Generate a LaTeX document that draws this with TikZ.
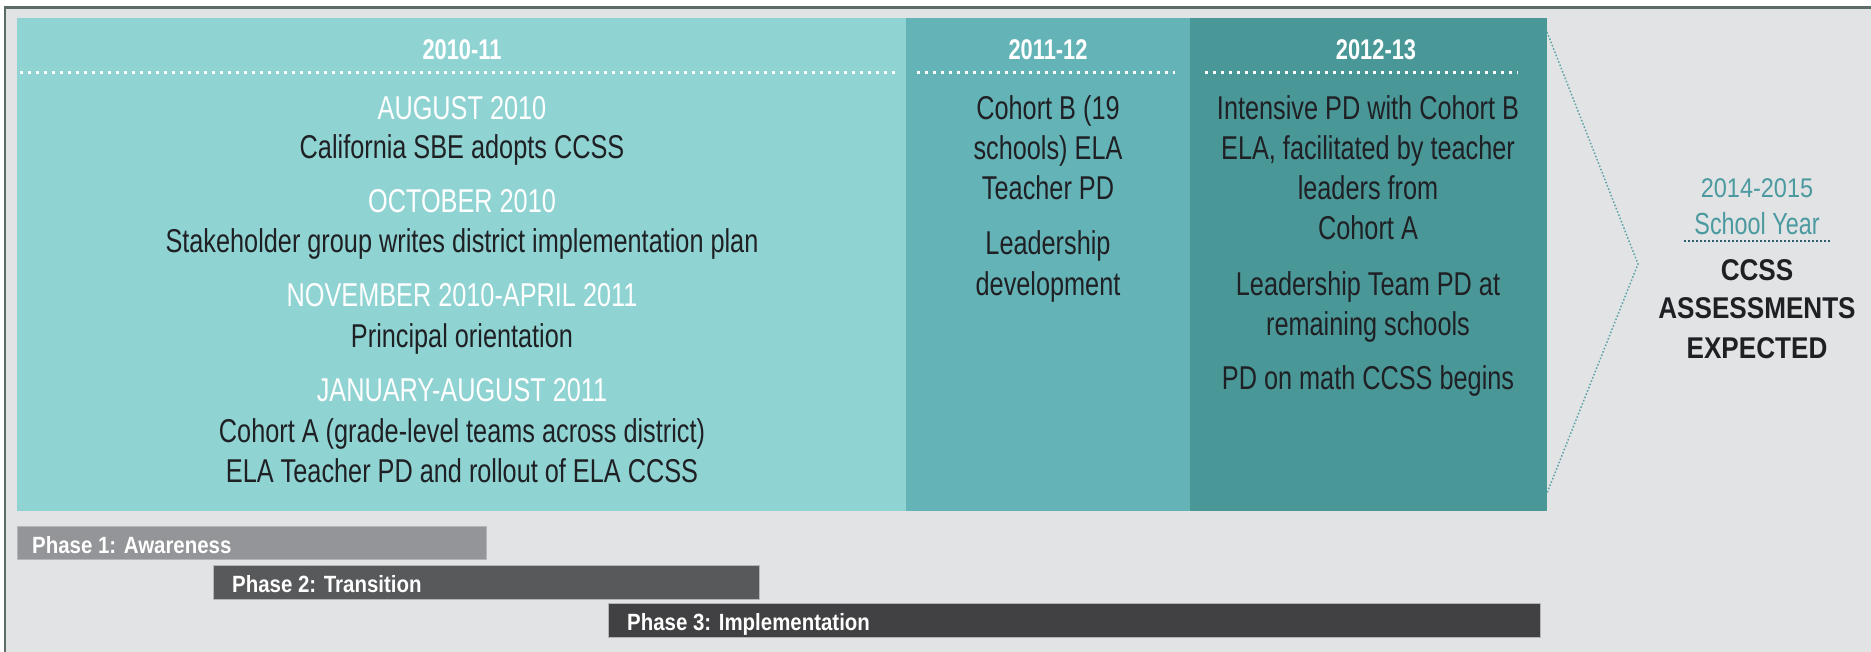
\documentclass[tikz,border=0pt]{standalone}
\usepackage{fontspec}
\setmainfont{Liberation Sans}
% condensed grotesque faces for the timeline texts
\newfontfamily\condfont[FakeStretch=0.766]{Liberation Sans}
\newfontfamily\widecondfont[FakeStretch=0.87]{Liberation Sans}

\definecolor{pagegray}{HTML}{E2E3E5}
\definecolor{framegray}{HTML}{5D6B68}
\definecolor{tealA}{HTML}{8FD3D2}
\definecolor{tealB}{HTML}{64B3B7}
\definecolor{tealC}{HTML}{4A9798}
\definecolor{tealtext}{HTML}{4A9AA0}
\definecolor{chevteal}{HTML}{5AA3A6}
\definecolor{underteal}{HTML}{2F5F6E}
\definecolor{inkdark}{HTML}{1F2024}
\definecolor{phaseA}{HTML}{949598}
\definecolor{phaseB}{HTML}{58595B}
\definecolor{phaseC}{HTML}{414143}
\definecolor{barrim}{HTML}{B4B5B8}

\begin{document}
\begin{tikzpicture}[x=1pt,y=-1pt,
  panel/.style={rectangle,draw=none,inner sep=0pt,anchor=north west},
  yearhead/.style={text=white,font=\condfont\bfseries\fontsize{28.5}{34}\selectfont,anchor=base,inner sep=0pt},
  evhead/.style={text=white,font=\condfont\fontsize{33}{39}\selectfont,anchor=base,inner sep=0pt},
  evbody/.style={text=inkdark,font=\condfont\fontsize{33}{39}\selectfont,anchor=base,inner sep=0pt},
  dotrule/.style={white,line width=3pt,dash pattern=on 3pt off 5pt},
  phasebar/.style={rectangle,anchor=north west,inner sep=0pt,draw=barrim,line width=0.8pt},
  phaselabel/.style={text=white,font=\widecondfont\bfseries\fontsize{23.5}{28}\selectfont,anchor=base west,inner sep=0pt},
  goalyear/.style={text=tealtext,anchor=base,inner sep=0pt},
  goalbig/.style={text=inkdark,font=\widecondfont\bfseries\fontsize{30}{36}\selectfont,anchor=base,inner sep=0pt}
]
\useasboundingbox (0,0) rectangle (1871,652);

% page background and frame
\fill[white] (0,0) rectangle (1871,652);
\fill[pagegray] (5,7.5) rectangle (1871,652);
\draw[framegray,line width=2.5pt] (5,652) -- (5,7.5) -- (1871,7.5);

% school-year panels
\node[panel,fill=tealA,minimum width=889pt,minimum height=493pt] (p1) at (17,18) {};
\node[panel,fill=tealB,minimum width=284pt,minimum height=493pt] (p2) at (906,18) {};
\node[panel,fill=tealC,minimum width=357pt,minimum height=493pt] (p3) at (1190,18) {};

% year headings with dotted rules
\node[yearhead] (y1) at (462,60) {2010-11};
\node[yearhead] (y2) at (1048,60) {2011-12};
\node[yearhead] (y3) at (1376,60) {2012-13};
\draw[dotrule] (20,73) -- (895,73);
\draw[dotrule] (917,73) -- (1175,73);
\draw[dotrule] (1205,73) -- (1518,73);

% 2010-11 events
\node[evhead] (e1h) at (462,120) {AUGUST 2010};
\node[evbody] (e1b) at (462,159) {California SBE adopts CCSS};
\node[evhead] (e2h) at (462,213) {OCTOBER 2010};
\node[evbody] (e2b) at (462,253) {Stakeholder group writes district implementation plan};
\node[evhead] (e3h) at (462,307) {NOVEMBER 2010-APRIL 2011};
\node[evbody] (e3b) at (462,347) {Principal orientation};
\node[evhead] (e4h) at (462,401) {JANUARY-AUGUST 2011};
\node[evbody] (e4b) at (462,442) {Cohort A (grade-level teams across district)};
\node[evbody] (e4c) at (462,482) {ELA Teacher PD and rollout of ELA CCSS};

% 2011-12 events
\node[evbody] (f1a) at (1048,120) {Cohort B (19};
\node[evbody] (f1b) at (1048,160) {schools) ELA};
\node[evbody] (f1c) at (1048,200) {Teacher PD};
\node[evbody] (f2a) at (1048,255) {Leadership};
\node[evbody] (f2b) at (1048,295) {development};

% 2012-13 events
\node[evbody] (g1a) at (1368,120) {Intensive PD with Cohort B};
\node[evbody] (g1b) at (1368,160) {ELA, facilitated by teacher};
\node[evbody] (g1c) at (1368,200) {leaders from};
\node[evbody] (g1d) at (1368,240) {Cohort A};
\node[evbody] (g2a) at (1368,295) {Leadership Team PD at};
\node[evbody] (g2b) at (1368,335) {remaining schools};
\node[evbody] (g3a) at (1368,389) {PD on math CCSS begins};

% chevron pointing to the assessment year
\coordinate (chtop) at (1547,32);
\coordinate (chtip) at (1638,264);
\coordinate (chbot) at (1547,493);
\draw[chevteal,line width=1.5pt,dash pattern=on 1.5pt off 2pt] (chtop) -- (chtip) -- (chbot);

% assessment year
\node[goalyear,font=\widecondfont\fontsize{27}{32}\selectfont] (gy) at (1757,198) {2014-2015};
\node[goalyear,font=\condfont\fontsize{30.5}{36}\selectfont] (gs) at (1757,235) {School Year};
\coordinate (ul1) at (1684,241);
\coordinate (ul2) at (1831,241);
\draw[underteal,line width=2.5pt,dash pattern=on 2pt off 2pt] (ul1) -- (ul2);
\node[goalbig] (ga) at (1757,280) {CCSS};
\node[goalbig] (gb) at (1757,318) {ASSESSMENTS};
\node[goalbig] (gc) at (1757,358) {EXPECTED};

% implementation phases
\node[phasebar,fill=phaseA,minimum width=469pt,minimum height=33pt] (ph1) at (17,526) {};
\node[phasebar,fill=phaseB,minimum width=546pt,minimum height=34pt] (ph2) at (213,565) {};
\node[phasebar,fill=phaseC,minimum width=932pt,minimum height=34pt] (ph3) at (608,603) {};
\node[phaselabel] (l1) at (32,553) {Phase 1: Awareness};
\node[phaselabel] (l2) at (232,592) {Phase 2: Transition};
\node[phaselabel] (l3) at (627,630) {Phase 3: Implementation};
\end{tikzpicture}
\end{document}
